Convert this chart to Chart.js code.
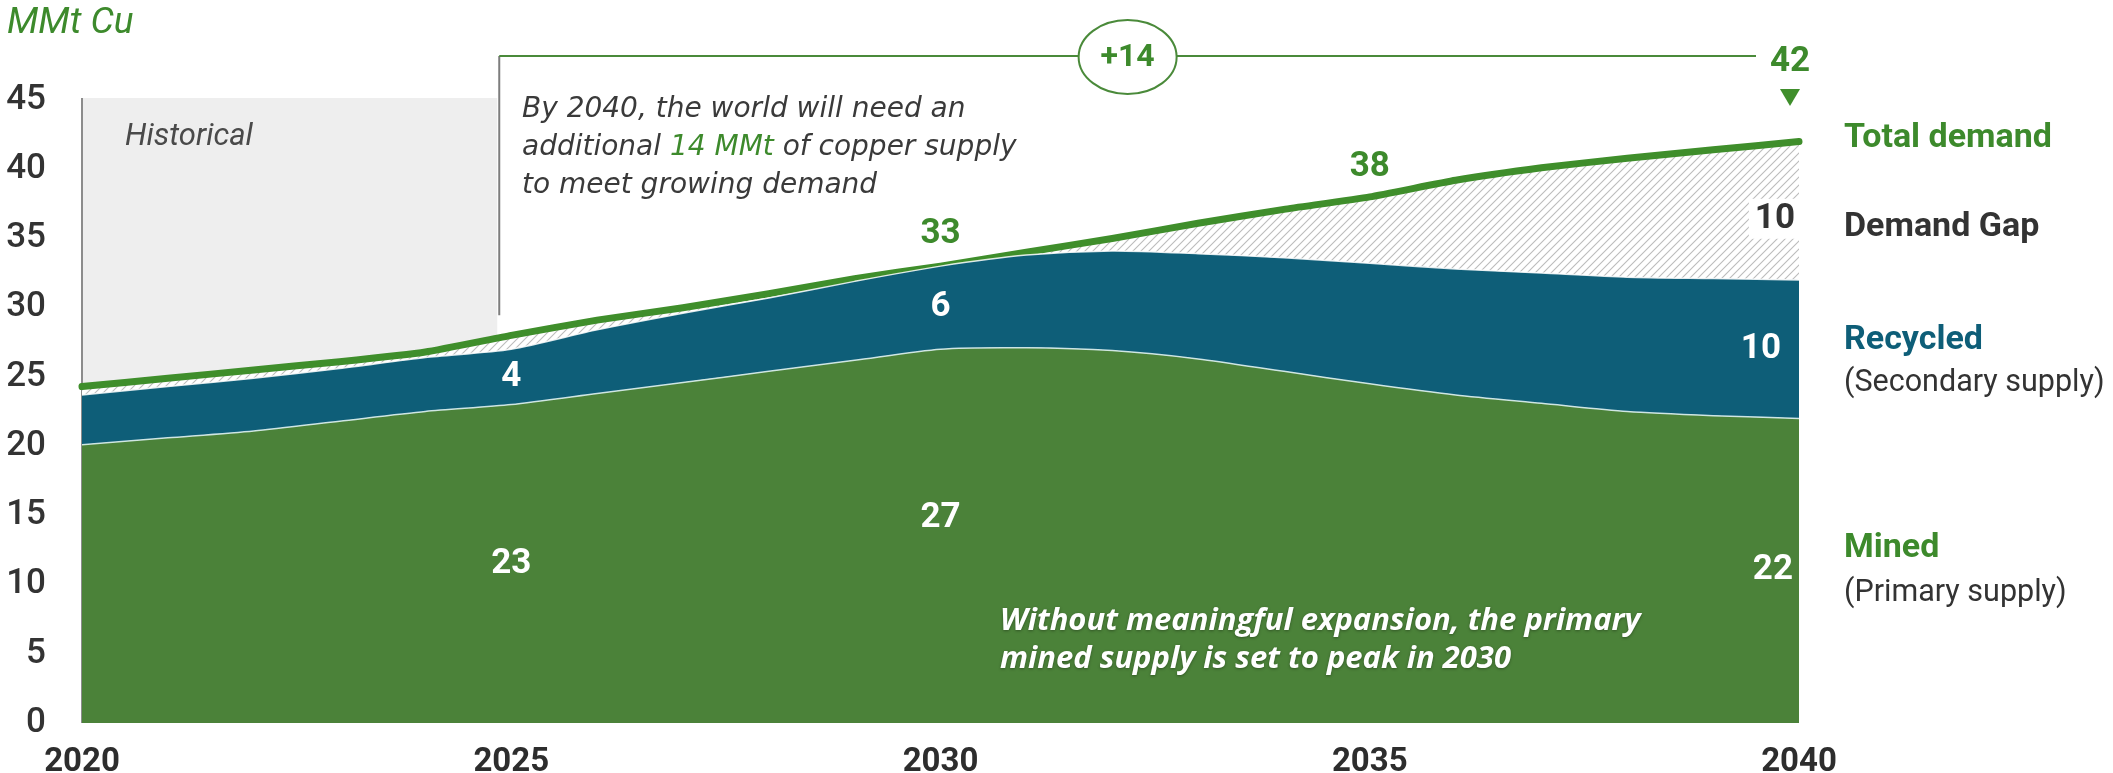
<!DOCTYPE html>
<html>
<head>
<meta charset="utf-8">
<title>Copper supply and demand to 2040</title>
<script src="https://cdn.jsdelivr.net/npm/chart.js"></script>
<style>
  html, body { margin: 0; padding: 0; background: #ffffff; }
  #wrap { width: 2113px; height: 773px; }
</style>
</head>
<body>
<div id="wrap"><canvas id="copperChart" width="2113" height="773"></canvas></div>
<script>
// MMt Cu per year
const years = [2020, 2021, 2022, 2023, 2024, 2025, 2026, 2027, 2028, 2029, 2030,
               2031, 2032, 2033, 2034, 2035, 2036, 2037, 2038, 2039, 2040];
const mined = [20.1, 20.6, 21.1, 21.8, 22.5, 23.0, 23.8, 24.6, 25.4, 26.2, 27.0,
               27.1, 26.9, 26.3, 25.4, 24.5, 23.7, 23.1, 22.5, 22.2, 22.0];
const recycled = [3.6, 3.7, 3.8, 3.8, 3.9, 4.0, 4.6, 5.0, 5.3, 5.7, 6.0,
                  6.7, 7.2, 7.6, 8.2, 8.7, 9.1, 9.4, 9.7, 9.9, 10.0];
const totalDemand = [24.3, 24.9, 25.5, 26.1, 26.8, 28.0, 29.1, 30.0, 31.0, 32.1, 33.0,
                     34.0, 35.0, 36.1, 37.1, 38.0, 39.2, 40.1, 40.8, 41.4, 42.0];
const yearTicks = [2020, 2025, 2030, 2035, 2040];

const GREEN = "#4b8239";
const LINE_GREEN = "#3f8e2b";
const TEXT_GREEN = "#3d8a2c";
const BLUE = "#0e5e78";
const DARK = "#333333";

function pts(values) {
  return years.map((yr, i) => ({ x: yr, y: values[i] }));
}

function at(year) {
  return years.indexOf(year);
}

// diagonal hatching for the demand gap
function makeHatch(ctx) {
  const c = document.createElement("canvas");
  c.width = 8;
  c.height = 8;
  const g = c.getContext("2d");
  g.fillStyle = "#ffffff";
  g.fillRect(0, 0, 8, 8);
  g.strokeStyle = "#bcbcbc";
  g.lineWidth = 1.1;
  g.beginPath();
  g.moveTo(0, 8); g.lineTo(8, 0);
  g.moveTo(-2, 2); g.lineTo(2, -2);
  g.moveTo(6, 10); g.lineTo(10, 6);
  g.stroke();
  return ctx.createPattern(c, "repeat");
}

const canvas = document.getElementById("copperChart");
const hatch = makeHatch(canvas.getContext("2d"));

function text(ctx, str, x, y, font, color, align) {
  ctx.font = font;
  ctx.fillStyle = color;
  ctx.textAlign = align || "left";
  ctx.textBaseline = "middle";
  ctx.fillText(str, x, y);
}

// grey "Historical" panel behind the first years
const historyBox = {
  id: "historyBox",
  beforeDatasetsDraw(chart) {
    const { ctx, scales: { x, y } } = chart;
    const left = x.getPixelForValue(2020);
    const right = x.getPixelForValue(2025) - 14;
    const top = y.getPixelForValue(45) - 2;
    const bottom = y.getPixelForValue(0);
    ctx.save();
    ctx.fillStyle = "#eeeeee";
    ctx.fillRect(left, top, right - left, bottom - top);
    ctx.strokeStyle = "#8c8c8c";
    ctx.lineWidth = 2;
    ctx.beginPath();
    ctx.moveTo(left, top);
    ctx.lineTo(left, bottom);
    ctx.stroke();
    text(ctx, "Historical", left + 43, top + 39, "italic 400 31px Roboto", "#4a4a4a");
    ctx.restore();
  }
};

const labels = {
  id: "labels",
  afterDraw(chart) {
    const { ctx, scales: { x, y } } = chart;
    const i25 = at(2025), i30 = at(2030), i35 = at(2035), i40 = at(2040);
    const x25 = x.getPixelForValue(2025);
    const x30 = x.getPixelForValue(2030);
    const x35 = x.getPixelForValue(2035);
    const x40 = x.getPixelForValue(2040);
    const num = "700 35px Roboto";
    ctx.save();

    // unit label
    text(ctx, "MMt Cu", 7, 24, "italic 400 37px Roboto", TEXT_GREEN);

    // bracket from 2025 to 2040 with the added demand
    const bx = x25 - 12;
    const by = 56;
    const bEnd = x40 - 43;
    const cx = (bx + bEnd) / 2;
    ctx.lineWidth = 2;
    ctx.strokeStyle = "#7d7d7d";
    ctx.beginPath();
    ctx.moveTo(bx, by);
    ctx.lineTo(bx, y.getPixelForValue(totalDemand[i25]) - 20);
    ctx.stroke();
    ctx.strokeStyle = "#4a8a3a";
    ctx.beginPath();
    ctx.moveTo(bx, by);
    ctx.lineTo(cx - 49, by);
    ctx.moveTo(cx + 49, by);
    ctx.lineTo(bEnd, by);
    ctx.stroke();
    ctx.beginPath();
    ctx.ellipse(cx, by + 1, 49, 37, 0, 0, Math.PI * 2);
    ctx.fillStyle = "#ffffff";
    ctx.fill();
    ctx.stroke();
    const added = Math.round(totalDemand[i40] - totalDemand[i25]);
    text(ctx, "+" + added, cx, by + 2, "700 32px Roboto", TEXT_GREEN, "center");

    // 2040 demand marker
    text(ctx, String(totalDemand[i40]), x40 - 9, 62, num, TEXT_GREEN, "center");
    ctx.fillStyle = LINE_GREEN;
    ctx.beginPath();
    ctx.moveTo(x40 - 19, 89);
    ctx.lineTo(x40 + 1, 89);
    ctx.lineTo(x40 - 9, 106);
    ctx.closePath();
    ctx.fill();

    // call-out text
    const f1 = "italic 400 28px 'DejaVu Sans'";
    const tx = 522;
    text(ctx, "By 2040, the world will need an", tx, 110, f1, "#3a3a3a");
    let px = tx;
    text(ctx, "additional ", px, 148, f1, "#3a3a3a");
    px += ctx.measureText("additional ").width;
    text(ctx, added + " MMt", px, 148, f1, TEXT_GREEN);
    px += ctx.measureText(added + " MMt").width;
    text(ctx, " of copper supply", px, 148, f1, "#3a3a3a");
    text(ctx, "to meet growing demand", tx, 186, f1, "#3a3a3a");

    // demand values along the line
    text(ctx, String(totalDemand[i30]), x30, y.getPixelForValue(totalDemand[i30]) - 32, num, TEXT_GREEN, "center");
    text(ctx, String(totalDemand[i35]), x35, y.getPixelForValue(totalDemand[i35]) - 30, num, TEXT_GREEN, "center");

    // values inside the areas
    const mid = (a, b) => (y.getPixelForValue(a) + y.getPixelForValue(b)) / 2;
    text(ctx, String(recycled[i25]), x25, mid(mined[i25], mined[i25] + recycled[i25]), num, "#ffffff", "center");
    text(ctx, String(mined[i25]), x25, mid(0, mined[i25]), num, "#ffffff", "center");
    text(ctx, String(recycled[i30]), x30, mid(mined[i30], mined[i30] + recycled[i30]), num, "#ffffff", "center");
    text(ctx, String(mined[i30]), x30, mid(0, mined[i30]) - 18, num, "#ffffff", "center");
    text(ctx, String(recycled[i40]), x40 - 18, mid(mined[i40], mined[i40] + recycled[i40]), num, "#ffffff", "right");
    text(ctx, String(mined[i40]), x40 - 6, mid(0, mined[i40]), num, "#ffffff", "right");

    // gap value on a white patch
    const supply40 = mined[i40] + recycled[i40];
    const gap = Math.round(totalDemand[i40] - supply40);
    const gy = mid(supply40, totalDemand[i40]) + 8;
    ctx.font = num;
    const gw = ctx.measureText(String(gap)).width;
    ctx.fillStyle = "#ffffff";
    ctx.fillRect(x40 - gw - 10, gy - 20, gw + 10, 40);
    text(ctx, String(gap), x40 - 4, gy, num, DARK, "right");

    // note on the mined area
    ctx.shadowColor = "rgba(0,0,0,0.35)";
    ctx.shadowBlur = 3;
    ctx.shadowOffsetY = 1;
    const f3 = "italic 700 31px 'Open Sans'";
    text(ctx, "Without meaningful expansion, the primary", 1000, 621, f3, "#ffffff");
    text(ctx, "mined supply is set to peak in 2030", 1000, 659, f3, "#ffffff");
    ctx.shadowColor = "transparent";

    // series names on the right
    const rx = 1844;
    text(ctx, "Total demand", rx, 138, "700 34px Roboto", TEXT_GREEN);
    text(ctx, "Demand Gap", rx, 227, "700 34px Roboto", DARK);
    text(ctx, "Recycled", rx, 340, "700 34px Roboto", BLUE);
    text(ctx, "(Secondary supply)", rx, 383, "400 30.5px Roboto", DARK);
    text(ctx, "Mined", rx, 548, "700 34px Roboto", TEXT_GREEN);
    text(ctx, "(Primary supply)", rx, 593, "400 30.5px Roboto", DARK);
    ctx.restore();
  }
};

new Chart(canvas, {
  type: "line",
  data: {
    datasets: [
      {
        label: "Mined",
        data: pts(mined),
        stack: "supply",
        fill: "origin",
        backgroundColor: GREEN,
        borderColor: "rgba(220,240,240,0.9)",
        borderWidth: 1.5,
        pointRadius: 0,
        tension: 0.25
      },
      {
        label: "Recycled",
        data: pts(recycled),
        stack: "supply",
        fill: "-1",
        backgroundColor: BLUE,
        borderColor: "rgba(255,255,255,0.85)",
        borderWidth: 1.5,
        pointRadius: 0,
        tension: 0.25
      },
      {
        label: "Total demand",
        data: pts(totalDemand),
        stack: "demand",
        fill: "-1",
        backgroundColor: hatch,
        borderColor: LINE_GREEN,
        borderWidth: 7,
        borderCapStyle: "round",
        pointRadius: 0,
        tension: 0.15,
        clip: false
      }
    ]
  },
  options: {
    responsive: false,
    animation: false,
    layout: { padding: { top: 100, right: 314, left: 0, bottom: 0 } },
    plugins: {
      legend: { display: false },
      tooltip: { enabled: false }
    },
    scales: {
      x: {
        type: "linear",
        min: 2020,
        max: 2040,
        grid: { display: false },
        border: { display: false },
        afterBuildTicks: (scale) => { scale.ticks = yearTicks.map(v => ({ value: v })); },
        afterFit: (scale) => { scale.height = 50; },
        ticks: {
          padding: 12,
          maxRotation: 0,
          autoSkip: false,
          color: "#2d2d2d",
          font: { family: "Roboto", size: 33, weight: "700" },
          callback: (v) => String(v)
        }
      },
      y: {
        stacked: true,
        min: 0,
        max: 45,
        grid: { display: false },
        border: { display: false },
        afterFit: (scale) => { scale.width = 82; },
        ticks: {
          stepSize: 5,
          padding: 28,
          color: "#333333",
          font: { family: "Roboto", size: 35, weight: "500" }
        }
      }
    }
  },
  plugins: [historyBox, labels]
});
</script>
</body>
</html>
